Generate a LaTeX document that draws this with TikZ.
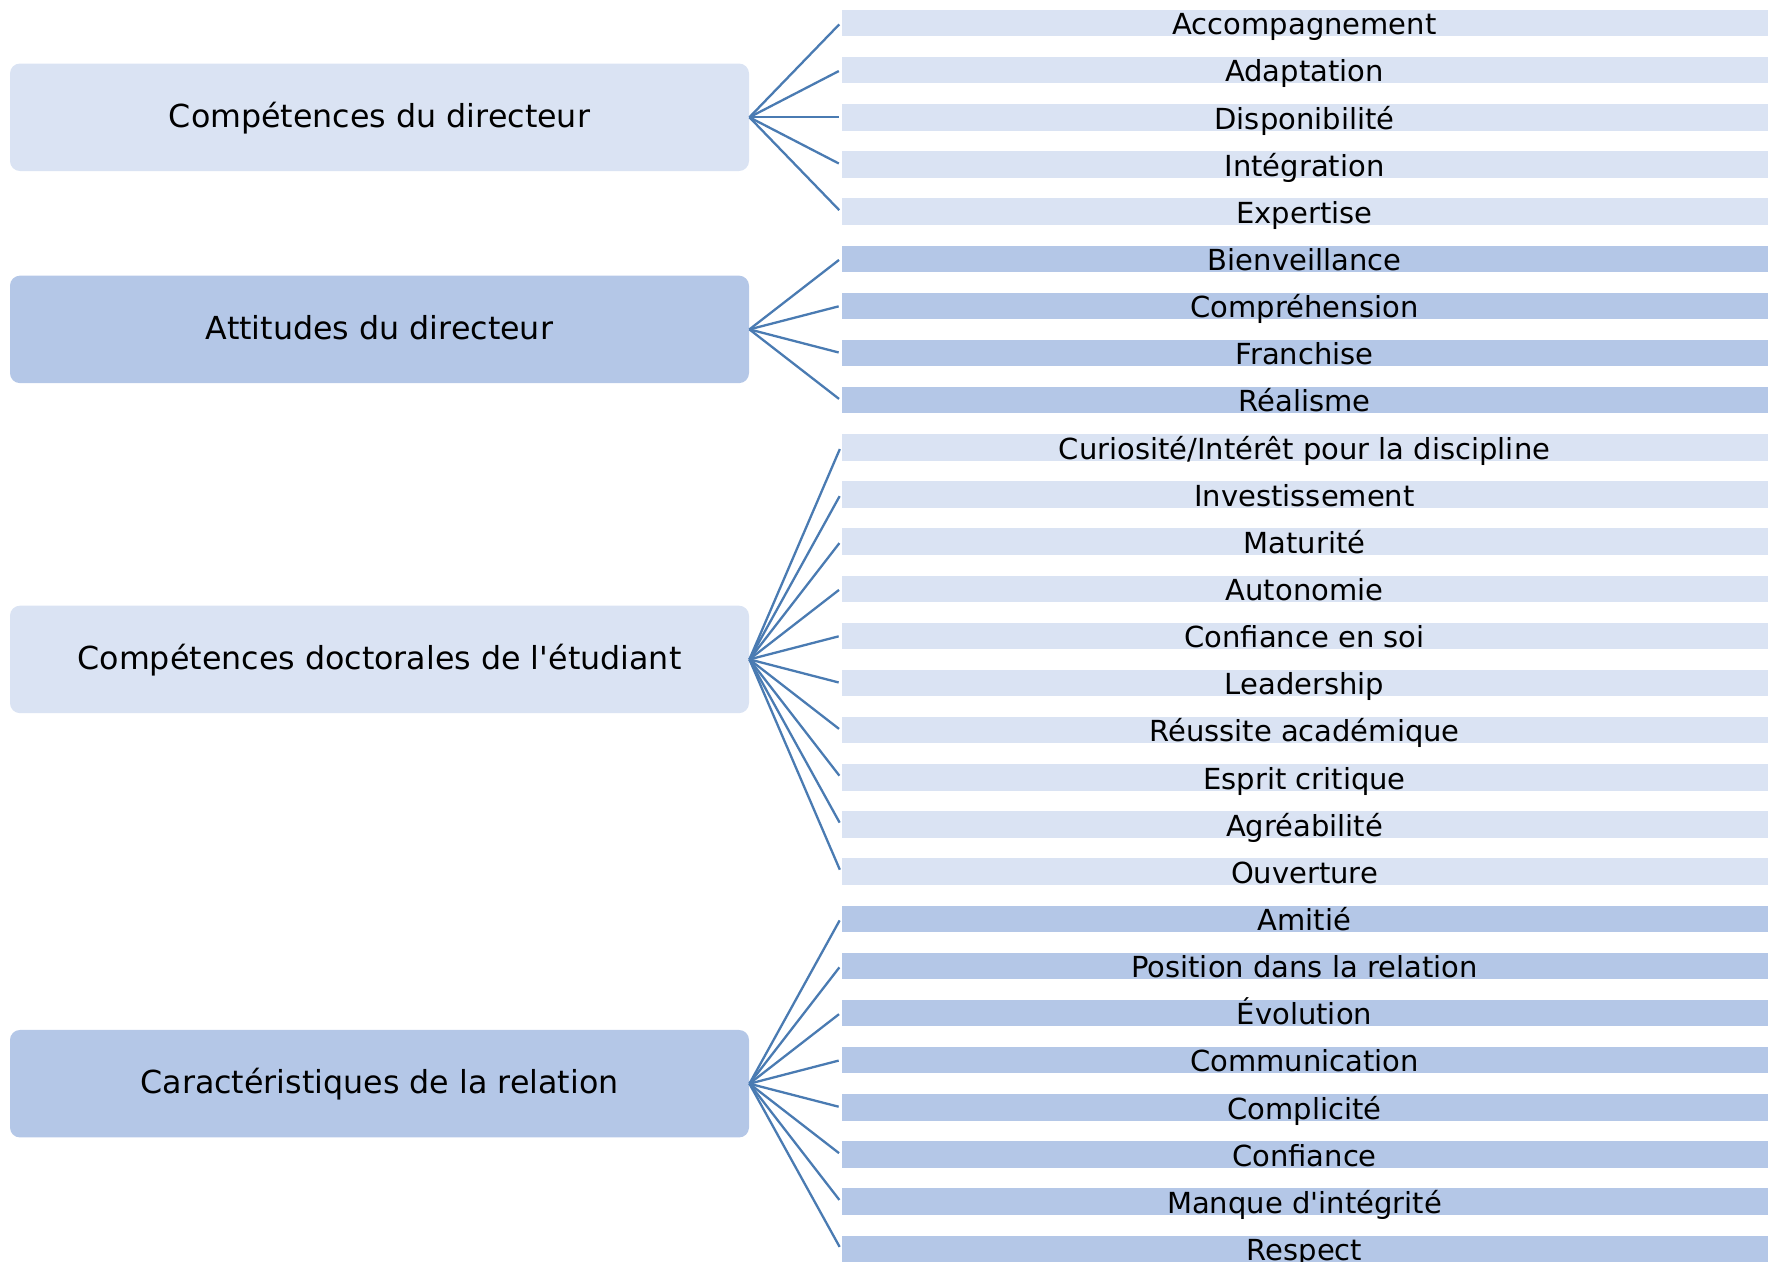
\documentclass[tikz,border=0pt]{standalone}
\usepackage{fontspec}
\setmainfont{DejaVu Sans}
\definecolor{lightc}{HTML}{DAE3F3}
\definecolor{darkc}{HTML}{B4C7E7}
\definecolor{linec}{HTML}{4A7BB2}
\begin{document}
\begin{tikzpicture}[x=0.5pt,y=-0.5pt,
  grp/.style={rounded corners=5pt, minimum width=369.5pt, minimum height=53.75pt, inner sep=0pt, text height=1.05em, text depth=0.07em, font=\fontsize{15.85}{19}\selectfont},
  bar/.style={draw=white, line width=0.4pt, minimum width=463.5pt, minimum height=13.7pt, inner sep=0pt, text height=12pt, text depth=0.2pt, font=\fontsize{14.5}{17}\selectfont},
  conn/.style={draw=linec, line width=1.15pt, shorten >=1pt}]
\useasboundingbox (0,0) rectangle (1771,1262);
\node[grp, fill=lightc] (g1) at (379.5,117.28) {Compétences du directeur};
\node[grp, fill=darkc] (g2) at (379.5,329.4) {Attitudes du directeur};
\node[grp, fill=lightc] (g3) at (379.5,659.4) {Compétences doctorales de l\textquotesingle étudiant};
\node[grp, fill=darkc] (g4) at (379.5,1083.7) {Caractéristiques de la relation};
\foreach \t [count=\i from 0] in {Accompagnement,Adaptation,Disponibilité,Intégration,Expertise}{
  \node[bar, fill=lightc] (b\i) at (1304.5,{23+47.14*\i}) {\t};
  \draw[conn] (g1.east) -- (b\i.west);
}
\foreach \t [count=\i from 5] in {Bienveillance,Compréhension,Franchise,Réalisme}{
  \node[bar, fill=darkc] (b\i) at (1304.5,{23+47.14*\i}) {\t};
  \draw[conn] (g2.east) -- (b\i.west);
}
\foreach \t [count=\i from 9] in {Curiosité/Intérêt pour la discipline,Investissement,Maturité,Autonomie,Confiance en soi,Leadership,Réussite académique,Esprit critique,Agréabilité,Ouverture}{
  \node[bar, fill=lightc] (b\i) at (1304.5,{23+47.14*\i}) {\t};
  \draw[conn] (g3.east) -- (b\i.west);
}
\foreach \t [count=\i from 19] in {Amitié,Position dans la relation,Évolution,Communication,Complicité,Confiance,Manque d\textquotesingle intégrité,Respect}{
  \node[bar, fill=darkc] (b\i) at (1304.5,{23+47.14*\i}) {\t};
  \draw[conn] (g4.east) -- (b\i.west);
}
\end{tikzpicture}
\end{document}
